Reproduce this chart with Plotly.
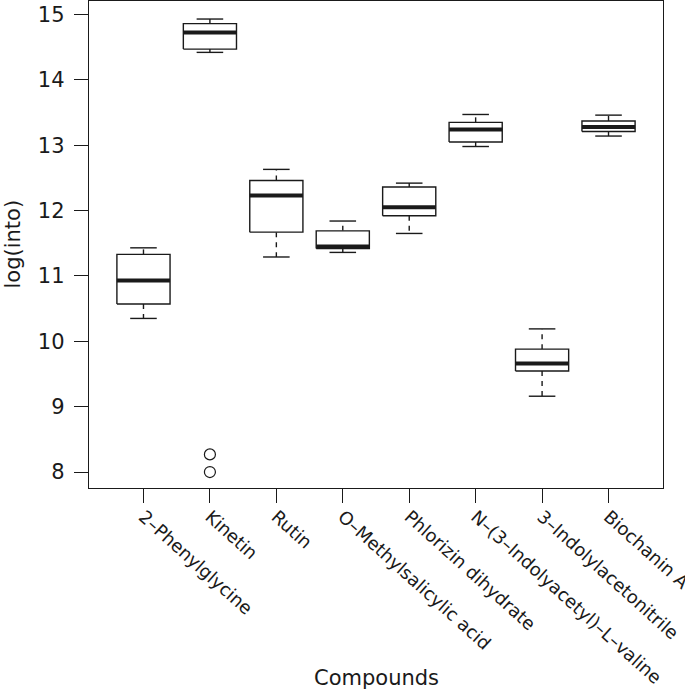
import plotly.graph_objects as go

# ---- data ----
compounds = ["2–Phenylglycine", "Kinetin", "Rutin", "O–Methylsalicylic acid",
             "Phlorizin dihydrate", "N–(3–Indolyacetyl)–L–valine",
             "3–Indolylacetonitrile", "Biochanin A"]
whisker_low = [10.35, 14.42, 11.29, 11.36, 11.65, 12.98, 9.16, 13.14]
q1 = [10.57, 14.47, 11.67, 11.42, 11.92, 13.05, 9.545, 13.21]
median = [10.93, 14.725, 12.23, 11.45, 12.05, 13.24, 9.66, 13.28]
q3 = [11.33, 14.86, 12.46, 11.69, 12.36, 13.35, 9.88, 13.37]
whisker_high = [11.43, 14.93, 12.63, 11.84, 12.42, 13.47, 10.19, 13.46]
outlier_group = ["Kinetin", "Kinetin"]
outlier_value = [8.27, 8.0]

y_ticks = [8, 9, 10, 11, 12, 13, 14, 15]

# ---- styling ----
INK = "#1a1a1a"
FONT = "DejaVu Sans, Liberation Sans, sans-serif"
BOX_HALF = 0.4      # boxwex 0.8
CAP_HALF = 0.2      # staplewex 0.5

pos = {c: i + 1 for i, c in enumerate(compounds)}

box_x, box_y = [], []
med_x, med_y = [], []
wh_x, wh_y = [], []
cap_x, cap_y = [], []
for i, c in enumerate(compounds):
    p = pos[c]
    box_x += [p - BOX_HALF, p + BOX_HALF, p + BOX_HALF, p - BOX_HALF, p - BOX_HALF, None]
    box_y += [q1[i], q1[i], q3[i], q3[i], q1[i], None]
    med_x += [p - BOX_HALF, p + BOX_HALF, None]
    med_y += [median[i], median[i], None]
    wh_x += [p, p, None, p, p, None]
    wh_y += [q3[i], whisker_high[i], None, q1[i], whisker_low[i], None]
    cap_x += [p - CAP_HALF, p + CAP_HALF, None, p - CAP_HALF, p + CAP_HALF, None]
    cap_y += [whisker_high[i], whisker_high[i], None, whisker_low[i], whisker_low[i], None]

fig = go.Figure()
fig.add_trace(go.Scatter(x=wh_x, y=wh_y, mode="lines",
                         line=dict(color=INK, width=1.4, dash="5px,5px"),
                         hoverinfo="skip", showlegend=False))
fig.add_trace(go.Scatter(x=cap_x, y=cap_y, mode="lines",
                         line=dict(color=INK, width=1.4),
                         hoverinfo="skip", showlegend=False))
fig.add_trace(go.Scatter(x=box_x, y=box_y, mode="lines", fill="toself",
                         fillcolor="white", line=dict(color=INK, width=1.4),
                         hoverinfo="skip", showlegend=False))
fig.add_trace(go.Scatter(x=med_x, y=med_y, mode="lines",
                         line=dict(color=INK, width=4),
                         hoverinfo="skip", showlegend=False))
fig.add_trace(go.Scatter(x=[pos[g] for g in outlier_group], y=outlier_value,
                         mode="markers",
                         marker=dict(symbol="circle-open", size=11,
                                     color=INK, line=dict(width=1.2)),
                         hoverinfo="skip", showlegend=False))

fig.update_layout(
    width=685, height=692,
    margin=dict(l=89, r=22, t=1, b=204, autoexpand=False),
    plot_bgcolor="white", paper_bgcolor="white",
    font=dict(family=FONT, size=20, color=INK),
    xaxis=dict(range=[0.18, 8.82], tickmode="array",
               tickvals=list(range(1, len(compounds) + 1)),
               ticktext=compounds, tickangle=42, automargin=False,
               ticklabeloverflow="allow", ticklabelstandoff=-4,
               ticks="outside", ticklen=14, tickwidth=1.2, tickcolor=INK,
               showline=True, linecolor=INK, linewidth=1.4, mirror=True,
               showgrid=False, zeroline=False,
               tickfont=dict(family=FONT, size=18, color=INK)),
    yaxis=dict(range=[7.756, 15.206], tickmode="array", tickvals=y_ticks,
               ticktext=[str(t) for t in y_ticks], automargin=False,
               ticklabelstandoff=5,
               ticks="outside", ticklen=14, tickwidth=1.2, tickcolor=INK,
               showline=True, linecolor=INK, linewidth=1.4, mirror=True,
               showgrid=False, zeroline=False,
               tickfont=dict(family=FONT, size=21, color=INK)),
    annotations=[
        dict(text="Compounds", xref="paper", yref="paper", x=0.5, y=0,
             xanchor="center", yanchor="bottom", yshift=-204, showarrow=False,
             font=dict(family=FONT, size=21, color=INK)),
        dict(text="log(into)", xref="paper", yref="paper", x=0, y=0.5,
             xanchor="center", yanchor="middle", xshift=-77, textangle=-90,
             showarrow=False, font=dict(family=FONT, size=21, color=INK)),
    ],
)

fig.write_html("out.html", config={"displayModeBar": False},
               post_script="document.body.style.margin='0';document.body.style.overflow='hidden';")
